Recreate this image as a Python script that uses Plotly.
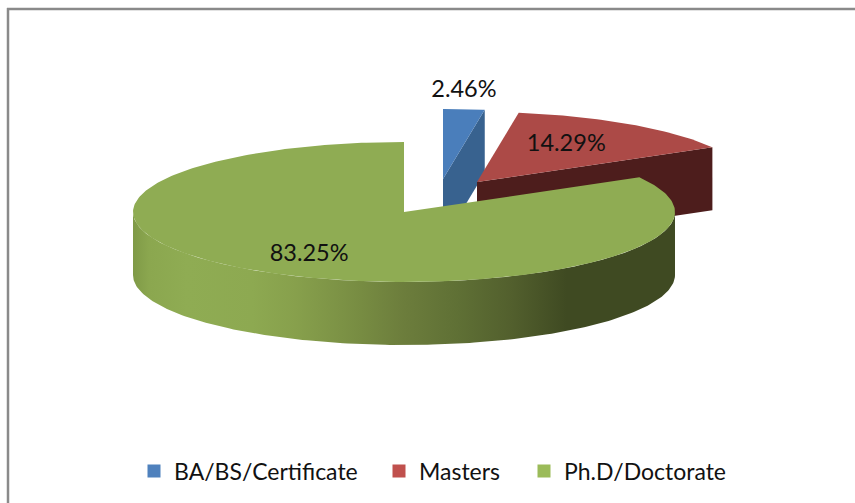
import numpy as np
import plotly.graph_objects as go

# Data
categories = ["BA/BS/Certificate", "Masters", "Ph.D/Doctorate"]
shares = [2.46, 14.29, 83.25]
labels = ["2.46%", "14.29%", "83.25%"]

# Style: top-face, cut-face and legend colours
top_colors = ["#4A7EBB", "#AC4A47", "#8FAC53"]
cut_colors = ["#38628F", "#4D1D1C", "#3F4A22"]
legend_colors = ["#4F81BD", "#C0504D", "#9BBB59"]
wall_scale = [
    [0.0, "#7F9A47"], [0.03, "#8BA74F"], [0.10, "#8FAC53"], [0.22, "#8DA951"],
    [0.30, "#87A04C"], [0.42, "#778C42"], [0.50, "#6C7D3C"], [0.60, "#5F7035"],
    [0.70, "#525F2D"], [0.80, "#3F4A22"], [1.0, "#3F4A22"],
]

# Projection of the tilted pie, in plot units
RX, RY, DEPTH = 271, 70, 63
centers = [(443, 179), (477, 182), (404, 212)]   # exploded slices have own centres
label_radial = [1.0, 0.6, 0.69]
label_offset = [(0, -18), (-3, -2), (-1, 1)]
legend_text_x = [174, 419, 564]
FONT = "Lato"


def rim(c, t_deg, dy=0):
    t = np.radians(np.asarray(t_deg, dtype=float))
    return c[0] + RX * np.sin(t), c[1] - RY * np.cos(t) + dy


# clockwise slice angles from 12 o'clock
edges = np.concatenate([[0], np.cumsum(shares)]) / sum(shares) * 360
fig = go.Figure()


def poly(x, y, color=None, **kw):
    fig.add_trace(go.Scatter(
        x=list(x), y=list(y), mode="lines", fill="toself", line=dict(width=0),
        fillcolor=color, hoverinfo="skip", showlegend=False, **kw))


for i in (0, 1):
    c = centers[i]
    a0, a1 = edges[i], edges[i + 1]
    ex, ey = rim(c, a1)
    # cut face running down from the clockwise edge
    poly([c[0], ex, ex, c[0]], [c[1], ey, ey + DEPTH, c[1] + DEPTH], cut_colors[i])
    # top face
    ts = np.linspace(a0, a1, 60)
    ax, ay = rim(c, ts)
    poly([c[0], *ax], [c[1], *ay], top_colors[i])

# big slice: outer wall with gradient, then top
c = centers[2]
ts = np.linspace(90, 270, 181)
bx, by = rim(c, ts)
poly([*bx, *bx[::-1]], [*by, *(by[::-1] + DEPTH)],
     fillgradient=dict(type="horizontal", colorscale=wall_scale))
ts = np.linspace(edges[2], edges[3], 300)
ax, ay = rim(c, ts)
poly([c[0], *ax], [c[1], *ay], top_colors[2])

# data labels
lx, ly = [], []
for i, (s0, s1) in enumerate(zip(edges[:-1], edges[1:])):
    px, py = centers[i]
    rx, ry = rim((0, 0), (s0 + s1) / 2)
    lx.append(px + rx * label_radial[i] + label_offset[i][0])
    ly.append(py + ry * label_radial[i] + label_offset[i][1])
fig.add_trace(go.Scatter(
    x=lx, y=ly, mode="text", text=labels, textposition="middle center",
    textfont=dict(family=FONT, size=23.5, color="#111111"),
    hoverinfo="skip", showlegend=False))

# legend: one per entry for the wide Office-style spacing
layout_legends = {}
for i, name in enumerate(categories):
    key = "legend" if i == 0 else f"legend{i + 1}"
    fig.add_trace(go.Scatter(
        x=[None], y=[None], mode="markers", name=name, legend=key,
        marker=dict(symbol="square", size=13, color=legend_colors[i])))
    layout_legends[key] = dict(
        x=(legend_text_x[i] - 40) / 855, y=1 - 471 / 503,
        xanchor="left", yanchor="middle", bgcolor="rgba(0,0,0,0)",
        itemclick=False, itemdoubleclick=False,
        font=dict(family=FONT, size=23, color="#111111"))

fig.update_layout(
    width=855, height=503, margin=dict(l=0, r=0, t=0, b=0),
    paper_bgcolor="white", plot_bgcolor="white",
    xaxis=dict(range=[0, 855], visible=False, fixedrange=True),
    yaxis=dict(range=[503, 0], visible=False, fixedrange=True),
    shapes=[
        dict(type="line", xref="paper", yref="paper", x0=8 / 855, x1=8 / 855, y0=0, y1=1 - 8 / 503,
             line=dict(color="#8A8A8A", width=2.5)),
        dict(type="line", xref="paper", yref="paper", x0=7 / 855, x1=1, y0=1 - 9 / 503, y1=1 - 9 / 503,
             line=dict(color="#8A8A8A", width=2.5)),
    ],
    **layout_legends,
)
fig.write_html("out.html", config=dict(displayModeBar=False),
               post_script="document.body.style.margin='0';document.body.style.overflow='hidden';")
